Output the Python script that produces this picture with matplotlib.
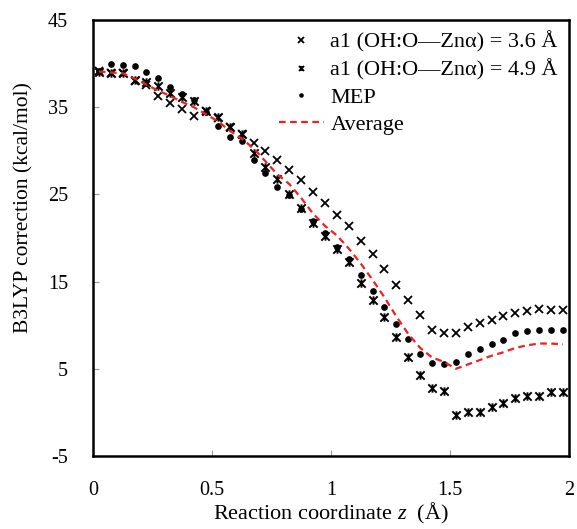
import numpy as np
import matplotlib
matplotlib.use("Agg")
import matplotlib.pyplot as plt
from matplotlib.path import Path

plt.rcParams["font.family"] = ["Liberation Serif", "DejaVu Serif"]
plt.rcParams["mathtext.fontset"] = "custom"
plt.rcParams["mathtext.it"] = "Liberation Serif:italic"
plt.rcParams["mathtext.rm"] = "Liberation Serif"
plt.rcParams["axes.unicode_minus"] = False

# ---- DATA ----
z = [0.025, 0.075, 0.125, 0.175, 0.225, 0.275, 0.325, 0.375, 0.425, 0.475,
     0.525, 0.575, 0.625, 0.675, 0.725, 0.775, 0.825, 0.875, 0.925, 0.975,
     1.025, 1.075, 1.125, 1.175, 1.225, 1.275, 1.325, 1.375, 1.425, 1.475,
     1.525, 1.575, 1.625, 1.675, 1.725, 1.775, 1.825, 1.875, 1.925, 1.975]

a1_36 = [39.2, 38.9, 38.9, 38.0, 37.5, 36.3, 35.5, 34.8, 34.0, 34.6,
         33.8, 32.7, 31.9, 30.9, 30.0, 29.0, 27.8, 26.7, 25.3, 24.0,
         22.7, 21.4, 19.7, 18.2, 16.5, 14.6, 12.9, 11.2, 9.5, 9.1,
         9.1, 9.8, 10.3, 10.6, 11.1, 11.4, 11.6, 11.9, 11.8, 11.8]

a1_49 = [39.1, 38.9, 38.9, 38.1, 37.9, 37.4, 36.6, 36.2, 35.7, 34.6,
         33.9, 32.7, 31.9, 29.7, 28.2, 26.8, 25.1, 23.4, 21.7, 20.2,
         18.8, 17.3, 14.8, 12.9, 11.0, 8.7, 6.4, 4.3, 2.8, 2.4,
         -0.3, 0.0, 0.1, 0.6, 1.1, 1.6, 1.9, 1.9, 2.3, 2.3]

mep = [39.2, 40.0, 39.9, 39.7, 39.1, 38.4, 37.3, 36.5, 35.8, 34.5,
       32.8, 31.6, 31.1, 29.0, 27.5, 25.9, 24.9, 23.3, 21.9, 20.6,
       19.0, 17.6, 15.8, 13.9, 12.1, 10.1, 8.4, 6.7, 5.7, 5.5,
       5.8, 6.7, 7.3, 7.8, 8.3, 9.1, 9.3, 9.4, 9.5, 9.5]

avg = [39.1, 39.0, 38.9, 38.3, 37.6, 36.9, 36.3, 35.6, 35.0, 34.2,
       33.4, 32.3, 31.4, 30.3, 28.8, 27.3, 26.2, 24.6, 22.8, 21.4,
       20.3, 18.8, 17.1, 15.2, 13.2, 11.0, 9.0, 7.4, 6.3, 5.8,
       5.0, 5.5, 6.0, 6.5, 6.9, 7.4, 7.7, 7.9, 7.9, 7.8]

# star marker (x with a vertical bar)
star = Path([(-1, -1), (1, 1), (-1, 1), (1, -1), (0, -1), (0, 1)],
            [Path.MOVETO, Path.LINETO, Path.MOVETO, Path.LINETO,
             Path.MOVETO, Path.LINETO])

fig = plt.figure(figsize=(5.77, 5.29), dpi=100)
ax = fig.add_axes([0.161, 0.138, 0.825, 0.824])

ax.plot(z, a1_36, linestyle="none", marker="x", color="black",
        markersize=6.2, markeredgewidth=1.3,
        label="a1 (OH:O\u2014Zn\u03b1) = 3.6 \u00c5")
ax.plot(z, a1_49, linestyle="none", marker=star, color="black",
        markersize=6, markeredgewidth=1.4,
        label="a1 (OH:O\u2014Zn\u03b1) = 4.9 \u00c5")
ax.plot(z, mep, linestyle="none", marker="o", color="black",
        markersize=3.8, label="MEP")
ax.plot(z, avg, linestyle=(0, (3, 2)), color="#f02020",
        linewidth=1.6, label="Average")

ax.set_xlim(0, 2)
ax.set_ylim(-5, 45)
ax.set_xticks([0, 0.5, 1, 1.5, 2])
ax.set_xticklabels(["0", "0.5", "1", "1.5", "2"])
ax.set_yticks([-5, 5, 15, 25, 35, 45])
ax.tick_params(direction="in", length=4, width=0.8, color="#999999",
               labelsize=14.5, top=False, right=False)
ax.tick_params(axis="x", pad=18)
ax.tick_params(axis="y", pad=18)
for s in ax.spines.values():
    s.set_linewidth(1.8)

ax.set_xlabel("Reaction coordinate $z$  (\u00c5)", fontsize=16, va="center")
ax.xaxis.set_label_coords(0.5, -0.133)
ax.set_ylabel("B3LYP correction (kcal/mol)", fontsize=15.5, va="center")
ax.yaxis.set_label_coords(-0.145, 0.569)

ax.legend(loc="upper right", frameon=False, fontsize=16, markerscale=0.6,
          handlelength=2.0, handletextpad=0.3, labelspacing=0.3,
          borderpad=0.2, borderaxespad=0.3, bbox_to_anchor=(1.0, 1.0))

fig.savefig("out.png", dpi=100)
